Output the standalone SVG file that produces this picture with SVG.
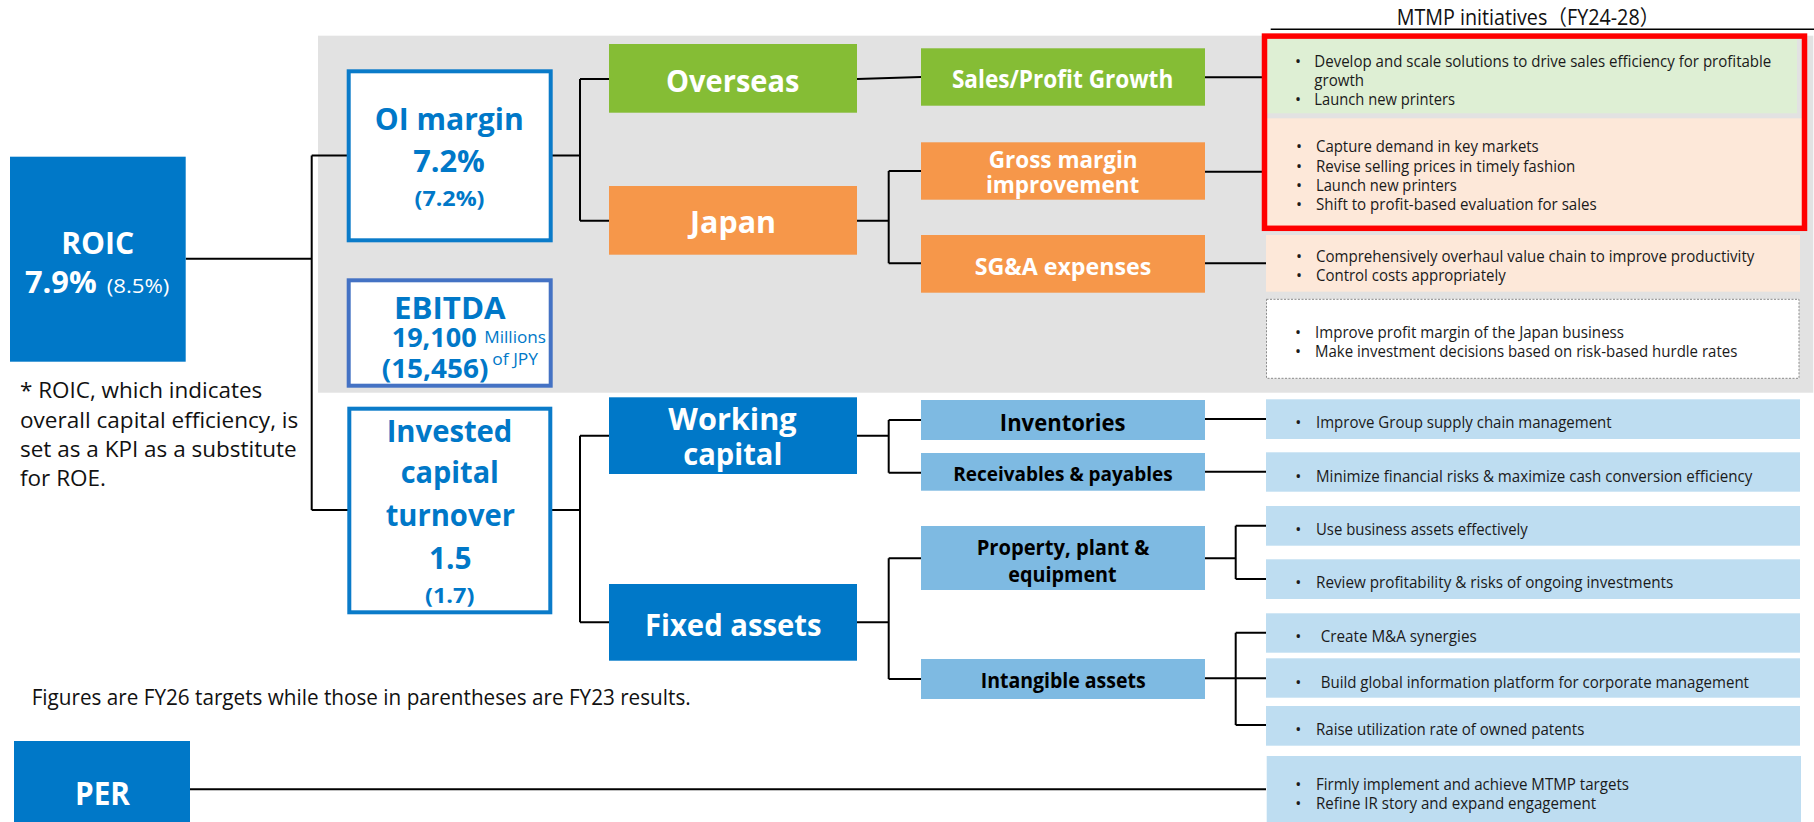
<svg xmlns="http://www.w3.org/2000/svg" width="1814" height="822" viewBox="0 0 1814 822">
<style>
text{font-family:"Open Sans","Noto Sans","Noto Sans CJK JP",sans-serif}
.b{font-weight:700}
.w{fill:#fff}
.bl{fill:#0078C8}
.k{fill:#000}
.c{text-anchor:middle}
.i{font-size:16px;fill:#1a1a1a}
.n{font-size:21px;fill:#111}
.ln{stroke:#000;stroke-width:2;fill:none}
.dk{fill:#0078C8}
.gr{fill:#85BD35}
.or{fill:#F6974A}
.lb{fill:#7EBAE2}
.ib{fill:#BEDDF1}
</style>
<rect id="panel" x="318" y="35.7" width="1495.3" height="357" fill="#E2E2E2"/>
<g id="connectors">
<path class="ln" d="M185.7 258.7H311.7M311.7 155.5V510M311.7 155.5H349M311.7 510H349"/>
<path class="ln" d="M551 155.5H580M580 79V220.7M580 79H609M580 220.7H609"/>
<path class="ln" d="M857 79L921 77"/>
<path class="ln" d="M857 220.7H888.7M888.7 171V263.3M888.7 171H921M888.7 263.3H921"/>
<path class="ln" d="M1205 77.3H1262M1205 171.7H1262M1205 263.3H1266"/>
<path class="ln" d="M551 510H580M580 435.7V622.3M580 435.7H609M580 622.3H609"/>
<path class="ln" d="M857 435.7H888.7M888.7 420V472.7M888.7 420H921M888.7 472.7H921"/>
<path class="ln" d="M857 622.3H888.7M888.7 558.3V679M888.7 558.3H921M888.7 679H921"/>
<path class="ln" d="M1205 419H1266M1205 471.7H1266"/>
<path class="ln" d="M1205 558.3H1235.7M1235.7 525.7V579M1235.7 525.7H1266M1235.7 579H1266"/>
<path class="ln" d="M1205 678.3H1266M1235.7 632.7V725M1235.7 632.7H1266M1235.7 725H1266"/>
<path class="ln" d="M190 789.3H1266"/>
<path d="M1270.7 29.3H1814" stroke="#000" stroke-width="1.5"/>
</g>
<g id="roic">
<rect class="dk" x="10" y="156.7" width="175.7" height="205"/>
<text class="b w c" x="97.7" y="254.3" font-size="30" textLength="73" lengthAdjust="spacingAndGlyphs">ROIC</text>
<text class="b w" x="25" y="293.3" font-size="31" textLength="71.7" lengthAdjust="spacingAndGlyphs">7.9%</text>
<text class="w" x="106.7" y="293.3" font-size="20" textLength="62.7" lengthAdjust="spacingAndGlyphs">(8.5%)</text>
</g>
<g id="note">
<text class="n" x="20" y="398.3" textLength="242.3" lengthAdjust="spacingAndGlyphs">* ROIC, which indicates</text>
<text class="n" x="20" y="427.7" textLength="278.3" lengthAdjust="spacingAndGlyphs">overall capital efficiency, is</text>
<text class="n" x="20" y="456.7" textLength="276.7" lengthAdjust="spacingAndGlyphs">set as a KPI as a substitute</text>
<text class="n" x="20" y="486" textLength="86" lengthAdjust="spacingAndGlyphs">for ROE.</text>
</g>
<g id="figures">
<text class="n" x="31.7" y="705" font-size="20" textLength="659" lengthAdjust="spacingAndGlyphs">Figures are FY26 targets while those in parentheses are FY23 results.</text>
</g>
<g id="per">
<rect class="dk" x="14" y="741" width="176" height="81"/>
<text class="b w c" x="102.5" y="805" font-size="33" textLength="55" lengthAdjust="spacingAndGlyphs">PER</text>
</g>
<g id="oi-margin">
<rect x="348.7" y="71.3" width="202" height="169" fill="#fff" stroke="#0A7BC9" stroke-width="4"/>
<text class="b bl c" x="449.3" y="130" font-size="30" textLength="149" lengthAdjust="spacingAndGlyphs">OI margin</text>
<text class="b bl c" x="449" y="171.7" font-size="30" textLength="71.7" lengthAdjust="spacingAndGlyphs">7.2%</text>
<text class="b bl c" x="449.5" y="205.7" font-size="21" textLength="70" lengthAdjust="spacingAndGlyphs">(7.2%)</text>
</g>
<g id="ebitda">
<rect x="348.7" y="280.3" width="202" height="105.4" fill="#fff" stroke="#4472C4" stroke-width="4"/>
<text class="b bl" x="394" y="319.3" font-size="30" textLength="111.7" lengthAdjust="spacingAndGlyphs">EBITDA</text>
<text class="b bl" x="391.7" y="346.7" font-size="27" textLength="85" lengthAdjust="spacingAndGlyphs">19,100</text>
<text class="bl" x="484.3" y="342.7" font-size="16" textLength="61.7" lengthAdjust="spacingAndGlyphs">Millions</text>
<text class="bl" x="492.3" y="365" font-size="16" textLength="45.7" lengthAdjust="spacingAndGlyphs">of JPY</text>
<text class="b bl" x="381.7" y="378.3" font-size="27" textLength="106.7" lengthAdjust="spacingAndGlyphs">(15,456)</text>
</g>
<g id="invested">
<rect x="349.3" y="408.7" width="201" height="203.6" fill="#fff" stroke="#0A7BC9" stroke-width="4"/>
<text class="b bl c" x="449.5" y="441.7" font-size="31" textLength="125.7" lengthAdjust="spacingAndGlyphs">Invested</text>
<text class="b bl c" x="449.8" y="483" font-size="31" textLength="98.3" lengthAdjust="spacingAndGlyphs">capital</text>
<text class="b bl c" x="450.3" y="525.7" font-size="31" textLength="129.3" lengthAdjust="spacingAndGlyphs">turnover</text>
<text class="b bl c" x="450.3" y="569" font-size="31" textLength="42.7" lengthAdjust="spacingAndGlyphs">1.5</text>
<text class="b bl c" x="449.7" y="602.7" font-size="21" textLength="49.3" lengthAdjust="spacingAndGlyphs">(1.7)</text>
</g>
<g id="overseas">
<rect class="gr" x="609" y="44" width="248" height="68.7"/>
<text class="b w c" x="732.7" y="91.7" font-size="30" textLength="133.3" lengthAdjust="spacingAndGlyphs">Overseas</text>
</g>
<g id="japan">
<rect class="or" x="609" y="186" width="248" height="68.7"/>
<text class="b w c" x="733" y="233.3" font-size="30" textLength="86" lengthAdjust="spacingAndGlyphs">Japan</text>
</g>
<g id="working-capital">
<rect class="dk" x="609" y="397.3" width="248" height="76.7"/>
<text class="b w c" x="732.5" y="430" font-size="30" textLength="128.3" lengthAdjust="spacingAndGlyphs">Working</text>
<text class="b w c" x="732.8" y="465" font-size="30" textLength="99" lengthAdjust="spacingAndGlyphs">capital</text>
</g>
<g id="fixed-assets">
<rect class="dk" x="609" y="584" width="248" height="76.7"/>
<text class="b w c" x="733.3" y="636" font-size="31" textLength="176.7" lengthAdjust="spacingAndGlyphs">Fixed assets</text>
</g>
<g id="sales-profit">
<rect class="gr" x="921" y="48.3" width="284" height="57.4"/>
<text class="b w c" x="1062.6" y="88.3" font-size="25" textLength="221.4" lengthAdjust="spacingAndGlyphs">Sales/Profit Growth</text>
</g>
<g id="gross-margin">
<rect class="or" x="921" y="142.3" width="284" height="57.4"/>
<text class="b w c" x="1063.2" y="168.3" font-size="23.5" textLength="148.9" lengthAdjust="spacingAndGlyphs">Gross margin</text>
<text class="b w c" x="1062.6" y="193.3" font-size="23.5" textLength="153.4" lengthAdjust="spacingAndGlyphs">improvement</text>
</g>
<g id="sga">
<rect class="or" x="921" y="235" width="284" height="57.7"/>
<text class="b w c" x="1063" y="275" font-size="23.5" textLength="176.7" lengthAdjust="spacingAndGlyphs">SG&amp;A expenses</text>
</g>
<g id="inventories">
<rect class="lb" x="921" y="400" width="284" height="40"/>
<text class="b k c" x="1062.7" y="430.7" font-size="23" textLength="125.7" lengthAdjust="spacingAndGlyphs">Inventories</text>
</g>
<g id="receivables">
<rect class="lb" x="921" y="453" width="284" height="37.7"/>
<text class="b k c" x="1063" y="481" font-size="19.5" textLength="219.3" lengthAdjust="spacingAndGlyphs">Receivables &amp; payables</text>
</g>
<g id="ppe">
<rect class="lb" x="921" y="526" width="284" height="64"/>
<text class="b k c" x="1063" y="555" font-size="21" textLength="172.7" lengthAdjust="spacingAndGlyphs">Property, plant &amp;</text>
<text class="b k c" x="1062.5" y="581.7" font-size="21" textLength="108.3" lengthAdjust="spacingAndGlyphs">equipment</text>
</g>
<g id="intangible">
<rect class="lb" x="921" y="659" width="284" height="40"/>
<text class="b k c" x="1063.2" y="688.3" font-size="21" textLength="165" lengthAdjust="spacingAndGlyphs">Intangible assets</text>
</g>
<g id="header">
<text x="1396.7" y="25" font-size="21" fill="#111" textLength="262.7" lengthAdjust="spacingAndGlyphs">MTMP initiatives（FY24-28）</text>
</g>
<g id="init-overseas">
<rect x="1267" y="39" width="530" height="74.3" fill="#DEEFD4"/>
<text class="i c" x="1298" y="66.7">•</text>
<text class="i" x="1314.3" y="66.7" textLength="457" lengthAdjust="spacingAndGlyphs">Develop and scale solutions to drive sales efficiency for profitable</text>
<text class="i" x="1314.3" y="86" textLength="49.7" lengthAdjust="spacingAndGlyphs">growth</text>
<text class="i c" x="1298" y="105">•</text>
<text class="i" x="1314.3" y="105" textLength="140.7" lengthAdjust="spacingAndGlyphs">Launch new printers</text>
</g>
<g id="init-gross">
<rect x="1267" y="118.3" width="535" height="108" fill="#FDE8D9"/>
<text class="i c" x="1299" y="151.7">•</text>
<text class="i" x="1316" y="151.7" textLength="222.7" lengthAdjust="spacingAndGlyphs">Capture demand in key markets</text>
<text class="i c" x="1299" y="171.7">•</text>
<text class="i" x="1316" y="171.7" textLength="259.3" lengthAdjust="spacingAndGlyphs">Revise selling prices in timely fashion</text>
<text class="i c" x="1299" y="190.7">•</text>
<text class="i" x="1316" y="190.7" textLength="140.7" lengthAdjust="spacingAndGlyphs">Launch new printers</text>
<text class="i c" x="1299" y="210">•</text>
<text class="i" x="1316" y="210" textLength="280.7" lengthAdjust="spacingAndGlyphs">Shift to profit-based evaluation for sales</text>
</g>
<rect id="highlight" x="1264.5" y="36.1" width="540" height="192.2" fill="none" stroke="#FF0000" stroke-width="5.5"/>
<g id="init-sga">
<rect x="1266" y="235" width="534" height="56.7" fill="#FDE8D9"/>
<text class="i c" x="1299" y="261.7">•</text>
<text class="i" x="1316" y="261.7" textLength="438.3" lengthAdjust="spacingAndGlyphs">Comprehensively overhaul value chain to improve productivity</text>
<text class="i c" x="1299" y="281">•</text>
<text class="i" x="1316" y="281" textLength="189.7" lengthAdjust="spacingAndGlyphs">Control costs appropriately</text>
</g>
<g id="init-general">
<rect x="1266.5" y="299.3" width="532.5" height="79" fill="#fff" stroke="#8a8a8a" stroke-width="1" stroke-dasharray="2 1.5"/>
<text class="i c" x="1298" y="337.7">•</text>
<text class="i" x="1315" y="337.7" textLength="309" lengthAdjust="spacingAndGlyphs">Improve profit margin of the Japan business</text>
<text class="i c" x="1298" y="356.7">•</text>
<text class="i" x="1315" y="356.7" textLength="422.3" lengthAdjust="spacingAndGlyphs">Make investment decisions based on risk-based hurdle rates</text>
</g>
<g id="init-inventories">
<rect class="ib" x="1266" y="399.3" width="534" height="39.7"/>
<text class="i c" x="1298.3" y="428.3">•</text>
<text class="i" x="1316" y="428.3" textLength="295.7" lengthAdjust="spacingAndGlyphs">Improve Group supply chain management</text>
</g>
<g id="init-receivables">
<rect class="ib" x="1266" y="452.3" width="534" height="39.4"/>
<text class="i c" x="1298.3" y="481.7">•</text>
<text class="i" x="1316" y="481.7" textLength="436.3" lengthAdjust="spacingAndGlyphs">Minimize financial risks &amp; maximize cash conversion efficiency</text>
</g>
<g id="init-ppe-1">
<rect class="ib" x="1266" y="506" width="534" height="39.7"/>
<text class="i c" x="1298.3" y="535">•</text>
<text class="i" x="1316" y="535" textLength="211.7" lengthAdjust="spacingAndGlyphs">Use business assets effectively</text>
</g>
<g id="init-ppe-2">
<rect class="ib" x="1266" y="559.3" width="534" height="39.7"/>
<text class="i c" x="1298.3" y="588.3">•</text>
<text class="i" x="1316" y="588.3" textLength="357.3" lengthAdjust="spacingAndGlyphs">Review profitability &amp; risks of ongoing investments</text>
</g>
<g id="init-int-1">
<rect class="ib" x="1266" y="613.3" width="534" height="39.4"/>
<text class="i c" x="1298.3" y="642.3">•</text>
<text class="i" x="1320.7" y="642.3" textLength="156" lengthAdjust="spacingAndGlyphs">Create M&amp;A synergies</text>
</g>
<g id="init-int-2">
<rect class="ib" x="1266" y="658.3" width="534" height="39.4"/>
<text class="i c" x="1298.3" y="687.7">•</text>
<text class="i" x="1320.7" y="687.7" textLength="428.3" lengthAdjust="spacingAndGlyphs">Build global information platform for corporate management</text>
</g>
<g id="init-int-3">
<rect class="ib" x="1266" y="706" width="534" height="39.7"/>
<text class="i c" x="1298.3" y="735">•</text>
<text class="i" x="1316" y="735" textLength="268.3" lengthAdjust="spacingAndGlyphs">Raise utilization rate of owned patents</text>
</g>
<g id="init-per">
<rect class="ib" x="1266.7" y="756" width="534.3" height="66"/>
<text class="i c" x="1298.3" y="790">•</text>
<text class="i" x="1316" y="790" textLength="313" lengthAdjust="spacingAndGlyphs">Firmly implement and achieve MTMP targets</text>
<text class="i c" x="1298.3" y="809.3">•</text>
<text class="i" x="1316" y="809.3" textLength="280" lengthAdjust="spacingAndGlyphs">Refine IR story and expand engagement</text>
</g>
</svg>
